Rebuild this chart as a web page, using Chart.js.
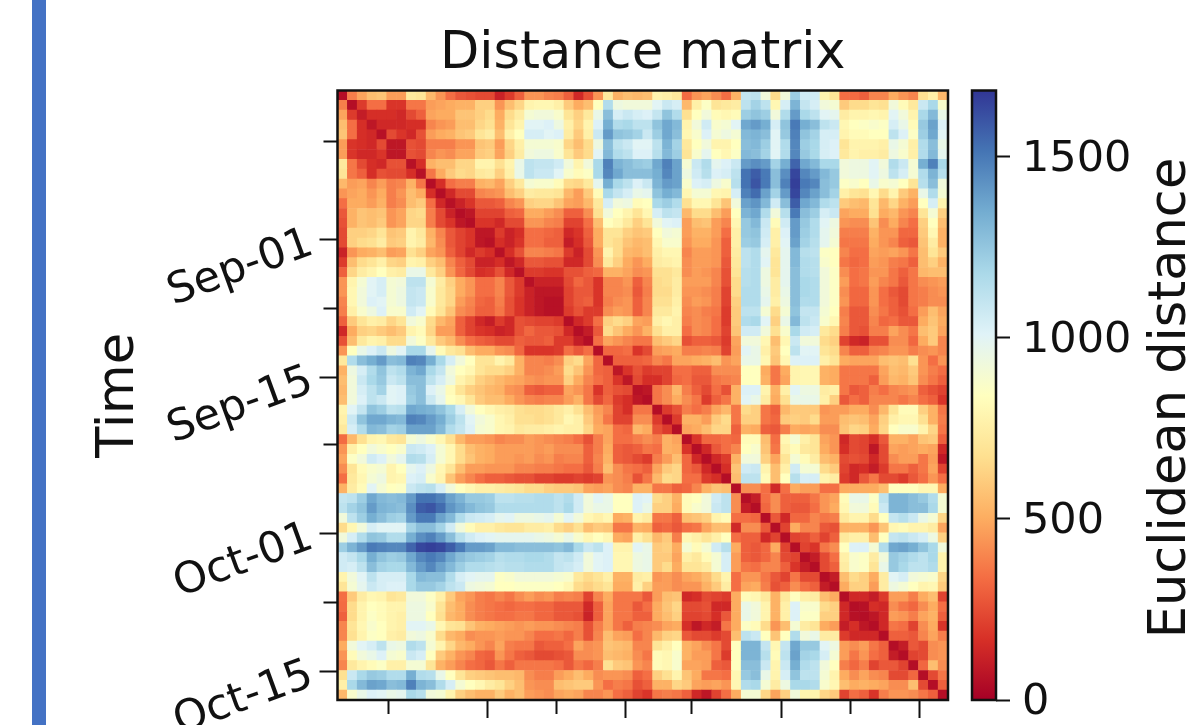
<!DOCTYPE html>
<html>
<head>
<meta charset="utf-8">
<script src="https://cdn.jsdelivr.net/npm/chart.js@4"></script>
<style>
  html, body { margin: 0; padding: 0; background: #fff; overflow: hidden; }
  #stage { position: relative; width: 1191px; height: 725px; overflow: hidden; }
  #stage canvas { position: absolute; top: 0; filter: blur(0.5px); }
  #matrix { left: 0; }
  #colorbar { left: 950px; }
  #strip { position: absolute; left: 32px; top: 0; width: 14px; height: 725px; background: #4472c4; }
</style>
</head>
<body>
<div id="stage">
  <div id="strip"></div>
  <canvas id="matrix" width="1191" height="725"></canvas>
  <canvas id="colorbar" width="241" height="725"></canvas>
</div>
<script>
// days on the time axis, tick spots are in days from the left/top edge
const dayCount = 62;
const tickDays = [5.2, 15.2, 22.2, 29.2, 36, 45.1, 52.1, 59.1];
const tickLabels = ['', 'Sep-01', '', 'Sep-15', '', 'Oct-01', '', 'Oct-15'];
const colorbarTicks = [0, 500, 1000, 1500];
const colorbarMax = 1683;

// RdYlBu reversed
const colormapStops = ['#a50026', '#d73027', '#f46d43', '#fdae61', '#fee090', '#ffffbf', '#e0f3f8', '#abd9e9', '#74add1', '#4575b4', '#313695'];

// distance / 10, upper triangle only, each row starts on the diagonal
const upperRows = [
  [5,38,48,56,58,46,46,72,70,54,44,34,28,26,24,24,12,20,30,44,44,40,38,30,14,26,44,72,52,56,54, 56,78,76,72,33,44,48,42,34,52,110,112,92,66,92,122,106,106,78,70,34,33,30,40,40,50,44,40,68,76,54],
  [5,20,34,34,18,18,36,36,46,48,50,52,52,62,62,44,56,64,78,80,80,76,60,50,56,84,116,94,92,92, 92,100,108,104,54,76,86,70,72,74,112,120,112,80,104,132,110,104,92,90,60,66,66,70,68,92,82,72,108,118,88],
  [10,16,16,16,14,24,30,48,50,50,58,58,62,66,50,66,74,90,92,92,88,70,62,72,96,128,104,108,104, 102,110,126,116,68,84,92,82,80,82,122,126,122,92,116,140,118,112,100,98,74,78,78,80,78,100,92,78,118,130,96],
  [8,14,14,14,16,16,40,44,46,56,56,64,68,52,70,78,100,100,102,94,76,64,78,102,134,116,118,112, 112,126,136,130,78,92,106,88,90,100,136,140,134,104,126,150,134,128,112,108,80,84,86,88,86,104,96,82,124,138,102],
  [6,24,18,14,26,46,50,52,58,60,70,74,56,76,84,104,104,100,102,74,60,76,108,140,126,124,120, 108,122,136,128,80,88,102,90,94,90,130,132,128,100,124,148,126,120,104,104,78,82,82,84,84,112,102,86,122,136,100],
  [8,8,26,24,38,38,38,44,44,58,60,46,64,76,90,90,90,88,64,56,66,94,128,112,108,100, 100,112,132,120,72,84,92,78,78,84,128,130,122,100,116,146,122,118,104,102,70,78,78,78,76,96,90,76,116,128,96],
  [8,26,24,40,44,42,48,48,60,62,48,62,74,92,94,94,88,70,60,66,100,130,116,112,102, 102,114,130,122,70,88,98,84,80,86,130,128,120,100,116,146,124,118,104,102,72,78,76,76,74,94,88,76,116,130,98],
  [6,16,52,56,56,64,64,78,78,68,78,96,112,110,110,106,92,78,92,118,148,132,128,124, 122,136,148,138,90,108,116,98,102,108,140,144,140,120,134,156,136,130,118,118,92,94,94,100,92,116,108,90,134,148,118],
  [6,36,50,60,66,64,72,74,62,76,96,112,108,108,100,88,82,86,118,146,136,128,128, 128,134,146,138,94,106,114,102,104,112,152,158,150,128,144,164,146,140,130,124,92,94,94,100,94,112,104,90,116,132,114],
  [5,16,34,38,38,52,54,48,62,72,90,88,88,82,66,64,72,98,134,118,112,102, 108,132,140,138,88,102,104,94,88,114,152,160,150,128,148,166,150,146,128,124,86,88,84,96,88,90,84,70,114,128,92],
  [5,14,24,24,40,42,44,56,62,74,72,72,70,54,46,60,82,118,110,104,96, 98,126,134,130,80,90,90,80,78,104,148,154,138,120,140,164,146,138,128,120,76,70,68,80,66,78,60,52,96,116,90],
  [6,12,18,28,28,30,40,44,62,64,64,58,48,46,54,72,104,92,94,82, 84,118,122,116,68,80,80,70,58,92,138,142,130,106,128,158,136,130,116,112,60,56,54,70,54,64,52,46,84,104,78],
  [5,8,22,22,22,30,32,50,50,46,42,30,30,42,68,92,84,78,70, 80,104,112,110,54,66,66,56,46,84,132,136,116,92,114,150,128,122,104,108,48,50,50,68,50,54,44,40,70,90,62],
  [5,18,18,14,24,24,44,44,40,38,22,22,34,56,84,80,72,62, 70,92,100,102,46,56,58,46,40,80,124,130,108,82,106,140,124,116,100,94,44,42,42,58,42,50,40,34,62,84,56],
  [8,8,20,12,16,34,34,32,30,14,18,30,50,70,70,62,58, 60,84,92,90,46,52,52,46,34,76,124,126,106,76,102,140,122,116,98,92,38,38,38,52,44,44,32,32,60,80,52],
  [6,16,12,18,34,34,30,30,10,16,28,50,70,66,58,54, 56,80,88,88,44,50,50,44,30,76,122,124,104,76,100,138,120,114,98,90,36,36,36,50,44,40,30,28,58,74,52],
  [6,16,26,40,40,38,36,20,12,24,44,78,66,54,52, 56,76,80,80,40,46,46,44,30,74,112,116,98,72,98,130,114,112,86,84,40,34,34,48,46,48,44,36,56,70,60],
  [8,14,28,28,26,26,14,14,24,42,72,62,50,44, 50,74,76,78,42,46,46,44,28,72,112,116,100,70,98,130,116,114,88,84,36,32,34,46,44,38,36,30,56,62,52],
  [6,20,20,18,18,26,26,30,32,52,52,48,42, 44,68,68,72,42,46,44,40,26,70,114,116,94,70,98,128,116,114,92,86,42,34,36,44,44,36,30,36,54,56,56],
  [6,12,12,12,24,32,28,18,40,40,44,30, 40,66,68,74,46,46,46,40,26,66,114,116,94,74,98,128,118,116,92,86,46,34,36,46,40,36,28,36,42,44,46],
  [8,8,8,22,28,28,18,40,40,42,28, 38,66,66,74,44,44,42,38,22,66,116,116,96,74,96,128,118,116,92,86,42,32,32,44,34,28,24,36,38,42,44],
  [6,6,22,28,30,18,38,42,44,30, 40,68,68,76,42,46,44,38,22,62,116,116,98,76,94,128,116,116,92,86,44,32,32,44,34,30,24,36,38,42,42],
  [6,20,26,20,20,42,46,44,30, 40,72,72,78,40,42,38,36,20,60,112,112,90,66,90,126,110,110,90,84,38,28,28,42,36,30,26,34,46,56,48],
  [5,14,20,34,62,66,62,48, 46,76,80,76,38,42,40,34,20,60,116,118,100,62,96,130,112,108,88,80,40,28,28,40,32,34,28,28,50,58,50],
  [5,10,28,66,58,50,44, 52,68,76,76,34,42,40,34,22,58,106,106,92,68,88,118,106,104,72,66,38,28,26,38,38,48,42,36,56,60,48],
  [5,34,48,44,40,36, 36,56,60,64,26,30,30,28,20,48,92,92,80,56,80,108,92,92,66,62,22,14,12,26,26,42,42,32,50,60,40],
  [5,32,32,34,18, 24,46,48,50,38,38,40,38,22,46,100,96,76,60,84,112,100,100,70,66,40,30,30,38,40,44,44,38,42,44,40],
  [5,30,30,30, 32,40,36,48,48,50,52,56,44,48,96,96,80,58,80,102,102,102,76,70,50,48,48,48,56,58,56,68,44,34,44],
  [8,18,26, 20,22,22,34,34,30,30,42,42,42,84,84,50,36,50,78,80,80,52,50,36,36,36,36,48,56,54,60,44,38,34],
  [8,24, 16,16,22,32,34,28,28,36,38,40,84,84,52,36,48,78,80,80,52,50,36,36,36,30,46,54,52,58,42,36,30],
  [6, 8,36,42,54,38,30,24,34,26,52,102,102,78,52,76,100,94,94,74,76,36,28,30,38,34,40,42,44,30,26,22],
  [5,36,42,50,42,36,20,30,36,52,100,96,74,50,68,96,96,96,76,62,28,34,30,40,40,40,36,40,34,30,18],
  [5,20,26,38,34,38,48,54,36,66,62,36,30,54,60,60,60,44,46,46,50,50,42,54,70,82,82,62,52,36],
  [5,20,52,52,46,60,66,36,62,62,36,32,60,62,60,66,46,46,56,58,56,48,62,76,80,80,68,52,38],
  [5,48,50,56,64,64,30,52,50,30,28,38,50,48,50,42,42,58,64,62,50,64,84,88,88,78,64,36],
  [5,18,32,32,34,32,82,82,56,34,80,90,76,70,48,44,14,24,22,16,28,52,52,48,58,60,30],
  [5,14,28,34,40,84,88,58,36,76,82,72,70,50,44,16,24,22,8,24,48,46,48,50,48,14],
  [5,14,20,52,92,92,62,48,70,90,82,74,56,52,24,26,24,14,24,42,46,46,36,46,8],
  [5,16,58,106,108,78,56,76,106,90,90,66,60,22,14,16,10,20,36,36,30,36,48,22],
  [5,56,112,112,82,56,84,114,104,104,78,74,20,14,28,36,24,24,20,28,34,44,34],
  [5,42,42,34,14,34,50,46,46,34,34,50,50,50,50,56,84,84,84,80,80,50],
  [5,10,34,42,30,30,30,36,44,48,82,96,96,86,112,132,132,128,124,116,90],
  [5,32,42,30,28,28,34,44,50,80,92,92,82,108,132,132,128,128,118,90],
  [5,28,14,32,32,40,36,38,72,78,78,66,84,110,114,108,96,90,64],
  [5,22,50,40,40,28,26,52,52,52,44,58,80,82,78,78,74,48],
  [5,22,24,30,22,30,72,76,76,56,84,110,112,108,104,94,62],
  [5,22,18,36,42,84,102,102,90,116,136,138,134,126,118,92],
  [5,10,24,34,76,88,86,74,92,124,120,116,112,118,78],
  [5,24,30,74,88,86,70,96,124,118,112,112,116,78],
  [5,10,56,66,62,50,74,100,104,92,90,88,64],
  [5,50,62,62,46,74,94,90,84,78,80,60],
  [5,14,14,10,20,46,46,38,50,56,22],
  [5,6,16,14,42,36,32,42,50,34],
  [5,8,14,46,44,38,48,52,30],
  [5,14,36,34,22,42,50,18],
  [5,30,30,28,40,48,38],
  [5,10,28,24,42,44],
  [5,22,24,42,44],
  [5,32,56,42],
  [5,24,36],
  [5,30],
  [5]
];

const fontFamily = '"DejaVu Sans", sans-serif';
const inkColor = '#111';
// an empty first line with this line height nudges tick labels 3px down
const nudgedTickFont = { family: fontFamily, size: 43, lineHeight: 0.14 };

upperRows.forEach((row, i) => {
  if (row.length !== dayCount - i) throw new Error('row ' + i + ' has ' + row.length);
});

function hexToRgb(hex) {
  return [1, 3, 5].map(p => parseInt(hex.slice(p, p + 2), 16));
}

function colorFor(value) {
  const pos = Math.min(value / colorbarMax, 1) * (colormapStops.length - 1);
  const low = Math.floor(pos);
  const high = Math.min(low + 1, colormapStops.length - 1);
  const a = hexToRgb(colormapStops[low]);
  const b = hexToRgb(colormapStops[high]);
  const t = pos - low;
  return `rgb(${a.map((c, i) => Math.round(c + (b[i] - c) * t)).join(',')})`;
}

const cells = [];
for (let row = 0; row < dayCount; row++) {
  for (let col = 0; col < dayCount; col++) {
    const value = (col >= row ? upperRows[row][col - row] : upperRows[col][row - col]) * 10;
    cells.push({ x: col + 0.5, y: row + 0.5, v: value });
  }
}

const frameBox = {
  id: 'frameBox',
  afterDatasetsDraw(chart) {
    const { ctx, chartArea: a } = chart;
    ctx.save();
    ctx.strokeStyle = inkColor;
    ctx.lineWidth = 2.5;
    ctx.strokeRect(a.left, a.top, a.right - a.left, a.bottom - a.top);
    ctx.restore();
  }
};

// major ticks are full length, the in-between ones are cut short with a dash
const xGrid = {
  drawOnChartArea: false,
  tickLength: 18,
  tickWidth: 2,
  tickColor: inkColor,
  tickBorderDash: c => (c.index % 2 === 0 ? [14, 40] : [])
};
// y ticks are stroked from the outer end inward
const yGrid = {
  ...xGrid,
  tickBorderDash: c => (c.index % 2 === 0 ? [0, 4, 14, 40] : [])
};

function setTimeTicks(scale) {
  scale.ticks = tickDays.map(value => ({ value }));
}

// tick label overhang must not shrink the plot box
function noLabelPadding(scale) {
  scale.paddingTop = 0;
  scale.paddingBottom = 0;
  scale.paddingLeft = 0;
  scale.paddingRight = 0;
}

new Chart(document.getElementById('matrix'), {
  type: 'scatter',
  data: {
    datasets: [{
      data: cells,
      pointStyle: 'rect',
      pointRadius: 7.4,
      pointBorderWidth: 0,
      pointBackgroundColor: cells.map(c => colorFor(c.v))
    }]
  },
  options: {
    responsive: false,
    animation: false,
    events: [],
    layout: { autoPadding: false, padding: { right: 243 } },
    plugins: {
      legend: { display: false },
      tooltip: { enabled: false },
      title: {
        display: true,
        text: 'Distance matrix',
        fullSize: false,
        color: inkColor,
        font: { family: fontFamily, size: 51, weight: 'normal' },
        padding: { top: 24.5, bottom: 4.8 }
      }
    },
    scales: {
      x: {
        type: 'linear',
        min: 0,
        max: dayCount,
        afterBuildTicks: setTimeTicks,
        afterFit: s => { s.height = 25; noLabelPadding(s); },
        border: { display: false },
        grid: xGrid,
        ticks: { display: false }
      },
      y: {
        type: 'linear',
        reverse: true,
        min: 0,
        max: dayCount,
        afterBuildTicks: setTimeTicks,
        afterFit: s => { s.width = 337.5; noLabelPadding(s); },
        border: { display: false },
        grid: yGrid,
        title: {
          display: true,
          text: 'Time',
          color: inkColor,
          font: { family: fontFamily, size: 51, weight: 'normal' },
          padding: { top: 89, bottom: 0 }
        },
        ticks: {
          autoSkip: false,
          minRotation: 20,
          maxRotation: 20,
          padding: 9,
          color: inkColor,
          font: nudgedTickFont,
          callback: (value, index) => ['', tickLabels[index]]
        }
      }
    }
  },
  plugins: [frameBox]
});

const colorbarTitle = {
  id: 'colorbarTitle',
  afterDraw(chart) {
    const { ctx } = chart;
    ctx.save();
    ctx.translate(222, 398);
    ctx.rotate(-Math.PI / 2);
    ctx.font = '51px ' + fontFamily;
    ctx.fillStyle = inkColor;
    ctx.textAlign = 'center';
    ctx.textBaseline = 'middle';
    ctx.fillText('Euclidean distance', 0, 0);
    ctx.restore();
  }
};

new Chart(document.getElementById('colorbar'), {
  type: 'bar',
  data: {
    labels: ['Euclidean distance'],
    datasets: [{
      data: [[0, colorbarMax]],
      barPercentage: 1,
      categoryPercentage: 1,
      borderWidth: 0,
      backgroundColor(c) {
        const area = c.chart.chartArea;
        if (!area) return colormapStops[0];
        const gradient = c.chart.ctx.createLinearGradient(0, area.bottom, 0, area.top);
        colormapStops.forEach((color, i) => gradient.addColorStop(i / (colormapStops.length - 1), color));
        return gradient;
      }
    }]
  },
  options: {
    responsive: false,
    animation: false,
    events: [],
    layout: { autoPadding: false, padding: { left: 22, top: 90.5, bottom: 25 } },
    plugins: { legend: { display: false }, tooltip: { enabled: false } },
    scales: {
      x: { display: false },
      y: {
        position: 'right',
        min: 0,
        max: colorbarMax,
        afterBuildTicks: s => { s.ticks = colorbarTicks.map(value => ({ value })); },
        afterFit: s => { s.width = 195; noLabelPadding(s); },
        border: { display: false },
        grid: { drawOnChartArea: false, tickLength: 14, tickWidth: 2, tickColor: inkColor },
        ticks: {
          padding: 12,
          color: inkColor,
          font: nudgedTickFont,
          callback: value => ['', String(value)]
        }
      }
    }
  },
  plugins: [frameBox, colorbarTitle]
});
</script>
</body>
</html>
